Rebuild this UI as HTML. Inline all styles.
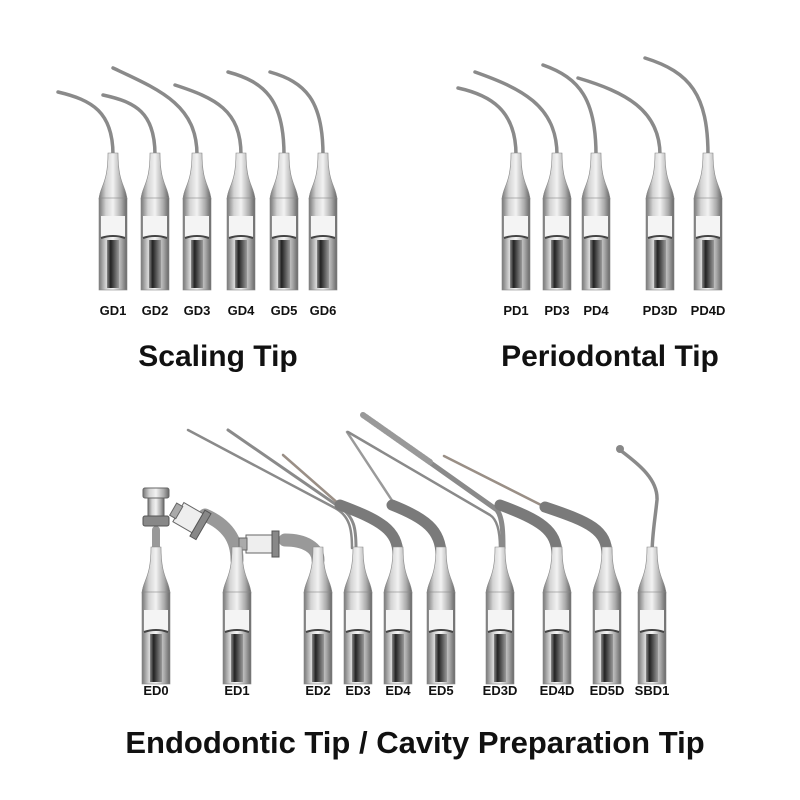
<!DOCTYPE html>
<html><head><style>
html,body{margin:0;padding:0;background:#fff;}
svg{display:block;}
text{font-family:"Liberation Sans",Arial,sans-serif;font-weight:bold;fill:#111;text-anchor:middle;}
</style></head><body>
<svg width="800" height="800" viewBox="0 0 800 800" xmlns="http://www.w3.org/2000/svg">
<defs>
<linearGradient id="m" x1="0" x2="1" y1="0" y2="0">
<stop offset="0" stop-color="#777"/><stop offset="0.25" stop-color="#d4d4d4"/><stop offset="0.5" stop-color="#f2f2f2"/><stop offset="0.8" stop-color="#aaa"/><stop offset="1" stop-color="#666"/>
</linearGradient>
<linearGradient id="d" x1="0" x2="1" y1="0" y2="0">
<stop offset="0" stop-color="#888"/><stop offset="0.3" stop-color="#222"/><stop offset="0.6" stop-color="#555"/><stop offset="1" stop-color="#999"/>
</linearGradient>
<g id="base">
<rect x="-14" y="0" width="28" height="92" fill="url(#m)" stroke="#888" stroke-width="0.6"/>
<rect x="-12" y="18" width="24" height="22" fill="#f4f4f4"/>
<path d="M-12,40 Q0,36 12,40" stroke="#444" stroke-width="2" fill="none"/>
<rect x="-6" y="42" width="12" height="48" fill="url(#d)"/>
</g>
<g id="body">
<path d="M-14,1 C-13,-12 -5,-14 -5,-45 L5,-45 C5,-14 13,-12 14,1 Z" fill="url(#m)" stroke="#888" stroke-width="0.6"/>
<use href="#base"/>
</g>
</defs>
<g fill="none" stroke="#8a8a8a" stroke-width="3.5" stroke-linecap="round">
<path d="M113,155 C113,112 92,100 58,92"/>
<path d="M155,155 C155,112 135,102 103,95"/>
<path d="M197,155 C197,105 160,90 113,68"/>
<path d="M241,155 C241,110 215,98 175,85"/>
<path d="M284,155 C284,100 265,82 228,72"/>
<path d="M323,155 C323,100 305,82 270,72"/>
<path d="M516,155 C516,110 490,95 458,88"/>
<path d="M557,155 C557,105 520,88 475,72"/>
<path d="M596,155 C596,100 580,78 543,65"/>
<path d="M660,155 C660,110 625,92 578,78"/>
<path d="M708,155 C708,95 690,72 645,58"/>
</g>
<!-- bottom wires -->
<g fill="none" stroke-linecap="round">
<path d="M188,430 L335,508 C350,516 352,530 352,548" stroke="#8a8a8a" stroke-width="2.5"/>
<path d="M228,430 L338,506 C355,516 356,530 356,548" stroke="#8a8a8a" stroke-width="3"/>
<path d="M283,455 L340,505" stroke="#9a8f86" stroke-width="2.5"/>
<path d="M340,505 C380,520 398,530 398,555" stroke="#7a7a7a" stroke-width="11"/>
<path d="M347,432 L395,505" stroke="#9a9a9a" stroke-width="2.5"/>
<path d="M348,432 L490,515 C498,520 500,535 500,548" stroke="#8a8a8a" stroke-width="2.5"/>
<path d="M392,505 C425,518 441,530 441,555" stroke="#7a7a7a" stroke-width="11"/>
<path d="M363,415 L497,510 C503,518 503,535 503,548" stroke="#8a8a8a" stroke-width="5"/>
<path d="M363,415 L430,462" stroke="#999" stroke-width="6" stroke-dasharray="2 1"/>
<path d="M500,505 C540,520 557,530 557,555" stroke="#7a7a7a" stroke-width="11"/>
<path d="M444,456 L545,507" stroke="#9a8f86" stroke-width="2.5"/>
<path d="M545,507 C590,522 607,530 607,555" stroke="#7a7a7a" stroke-width="11"/>
<path d="M620,450 C640,465 658,480 657,500 C655,520 652,535 652,555" stroke="#8a8a8a" stroke-width="3.5"/>
<!-- ED0 post -->
<path d="M156,555 L156,530" stroke="#999" stroke-width="8"/>
<!-- ED1 / ED2 bent -->
<path d="M237,560 C237,540 228,525 205,515" stroke="#999" stroke-width="13"/>
<path d="M318,560 C318,548 305,540 285,540" stroke="#999" stroke-width="13"/>
</g>
<circle cx="620" cy="449" r="4" fill="#888"/>
<!-- ED0 head -->
<rect x="143" y="488" width="26" height="10" rx="2" fill="url(#m)" stroke="#666"/>
<rect x="148" y="498" width="16" height="18" fill="url(#m)" stroke="#666"/>
<rect x="143" y="516" width="26" height="10" rx="2" fill="#888" stroke="#555"/>
<!-- ED1 head -->
<g transform="rotate(30 190 520)"><rect x="176" y="508" width="24" height="22" fill="#eee" stroke="#666"/><rect x="198" y="504" width="7" height="30" fill="#888" stroke="#555"/><rect x="170" y="512" width="7" height="14" fill="#aaa" stroke="#666"/></g>
<!-- ED2 head -->
<rect x="246" y="535" width="26" height="18" fill="#eee" stroke="#666"/><rect x="272" y="531" width="7" height="26" fill="#888" stroke="#555"/><rect x="239" y="538" width="8" height="12" fill="#aaa" stroke="#666"/>
<g>
<use href="#body" x="113" y="198"/><use href="#body" x="155" y="198"/><use href="#body" x="197" y="198"/>
<use href="#body" x="241" y="198"/><use href="#body" x="284" y="198"/><use href="#body" x="323" y="198"/>
<use href="#body" x="516" y="198"/><use href="#body" x="557" y="198"/><use href="#body" x="596" y="198"/>
<use href="#body" x="660" y="198"/><use href="#body" x="708" y="198"/>
<use href="#body" x="156" y="592"/><use href="#body" x="237" y="592"/><use href="#body" x="318" y="592"/>
<use href="#body" x="358" y="592"/><use href="#body" x="398" y="592"/><use href="#body" x="441" y="592"/>
<use href="#body" x="500" y="592"/><use href="#body" x="557" y="592"/><use href="#body" x="607" y="592"/>
<use href="#body" x="652" y="592"/>
</g>
<g font-size="13">
<text x="113" y="315">GD1</text><text x="155" y="315">GD2</text><text x="197" y="315">GD3</text>
<text x="241" y="315">GD4</text><text x="284" y="315">GD5</text><text x="323" y="315">GD6</text>
<text x="516" y="315">PD1</text><text x="557" y="315">PD3</text><text x="596" y="315">PD4</text>
<text x="660" y="315">PD3D</text><text x="708" y="315">PD4D</text>
<text x="156" y="695">ED0</text><text x="237" y="695">ED1</text><text x="318" y="695">ED2</text>
<text x="358" y="695">ED3</text><text x="398" y="695">ED4</text><text x="441" y="695">ED5</text>
<text x="500" y="695">ED3D</text><text x="557" y="695">ED4D</text><text x="607" y="695">ED5D</text>
<text x="652" y="695">SBD1</text>
</g>
<text x="218" y="366" font-size="30">Scaling Tip</text>
<text x="610" y="366" font-size="30">Periodontal Tip</text>
<text x="415" y="753" font-size="31">Endodontic Tip / Cavity Preparation Tip</text>
</svg>
</body></html>
